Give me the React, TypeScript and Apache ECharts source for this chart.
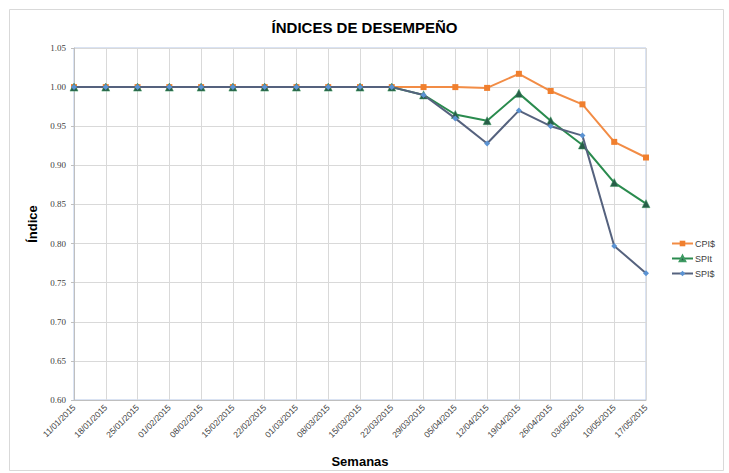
import React, { useEffect, useRef } from "react";
import * as echarts from "echarts";

const weeks = [
  "11/01/2015", "18/01/2015", "25/01/2015", "01/02/2015", "08/02/2015", "15/02/2015",
  "22/02/2015", "01/03/2015", "08/03/2015", "15/03/2015", "22/03/2015", "29/03/2015",
  "05/04/2015", "12/04/2015", "19/04/2015", "26/04/2015", "03/05/2015", "10/05/2015", "17/05/2015",
];
const cpi = [1, 1, 1, 1, 1, 1, 1, 1, 1, 1, 1, 1.0, 1.0, 0.999, 1.017, 0.995, 0.978, 0.93, 0.91];
const spit = [1, 1, 1, 1, 1, 1, 1, 1, 1, 1, 1, 0.99, 0.965, 0.957, 0.992, 0.957, 0.926, 0.878, 0.851];
const spid = [1, 1, 1, 1, 1, 1, 1, 1, 1, 1, 1, 0.99, 0.96, 0.928, 0.97, 0.95, 0.938, 0.797, 0.762];

const FONT = "'Liberation Sans', Arial, sans-serif";

export default function App() {
  const ref = useRef<HTMLDivElement>(null);
  useEffect(() => {
    if (!ref.current) return;
    const chart = echarts.init(ref.current, null, { renderer: "svg" });
    chart.setOption({
      animation: false,
      backgroundColor: "#ffffff",
      title: {
        text: "ÍNDICES DE DESEMPEÑO",
        left: "center",
        top: 15,
        textStyle: { fontFamily: FONT, fontSize: 15, fontWeight: "bold", color: "#000" },
      },
      graphic: [
        {
          type: "rect",
          shape: { x: 9.5, y: 9.5, width: 714, height: 461 },
          style: { fill: "none", stroke: "#D9D9D9", lineWidth: 1 },
          silent: true,
        },
      ],
      legend: {
        orient: "vertical",
        left: 666,
        top: 234,
        itemWidth: 21,
        itemHeight: 7,
        itemGap: 6,
        textStyle: { fontFamily: FONT, fontSize: 9, color: "#404040", padding: [0, 0, 0, -3] },
        data: ["CPI$", "SPIt", "SPI$"],
      },
      grid: {
        left: 74,
        right: 83,
        top: 48,
        bottom: 68,
        show: true,
        borderColor: "#B4C7E7",
        borderWidth: 1,
      },
      xAxis: {
        type: "category",
        data: weeks,
        boundaryGap: false,
        name: "Semanas",
        nameLocation: "middle",
        nameGap: 55,
        nameTextStyle: { fontFamily: FONT, fontSize: 13, fontWeight: "bold", color: "#000" },
        axisLine: { lineStyle: { color: "#BFBFBF" } },
        axisTick: { show: false },
        axisLabel: {
          rotate: 45,
          interval: 0,
          fontFamily: FONT,
          fontSize: 8.5,
          color: "#404040",
          margin: 6,
        },
        splitLine: { show: true, lineStyle: { color: "#D9D9D9" } },
      },
      yAxis: {
        type: "value",
        min: 0.6,
        max: 1.05,
        interval: 0.05,
        name: "Índice",
        nameLocation: "middle",
        nameGap: 35,
        nameTextStyle: { fontFamily: FONT, fontSize: 13, fontWeight: "bold", color: "#000" },
        axisLine: { show: true, lineStyle: { color: "#BFBFBF" } },
        axisTick: { show: true, length: 3, lineStyle: { color: "#BFBFBF" } },
        axisLabel: {
          fontFamily: "'Liberation Serif', serif",
          fontSize: 9,
          color: "#404040",
          margin: 8,
          formatter: (v: number) => v.toFixed(2),
        },
        splitLine: { show: true, lineStyle: { color: "#D9D9D9" } },
      },
      series: [
        {
          name: "CPI$",
          type: "line",
          data: cpi,
          symbol: "rect",
          symbolSize: 6,
          lineStyle: { color: "#F28C45", width: 2 },
          itemStyle: { color: "#F07F2E" },
          z: 3,
        },
        {
          name: "SPIt",
          type: "line",
          data: spit,
          symbol: "triangle",
          symbolSize: 8,
          lineStyle: { color: "#2A8B4E", width: 2 },
          itemStyle: { color: "#275E48", borderColor: "#3E9A62", borderWidth: 0.5 },
          z: 4,
        },
        {
          name: "SPI$",
          type: "line",
          data: spid,
          symbol: "diamond",
          symbolSize: 6,
          lineStyle: { color: "#55627E", width: 2 },
          itemStyle: { color: "#5B93D3" },
          z: 5,
        },
      ],
    });
    return () => chart.dispose();
  }, []);
  return (
    <div
      ref={ref}
      style={{ position: "absolute", left: 0, top: 0, width: 729, height: 473 }}
    />
  );
}
